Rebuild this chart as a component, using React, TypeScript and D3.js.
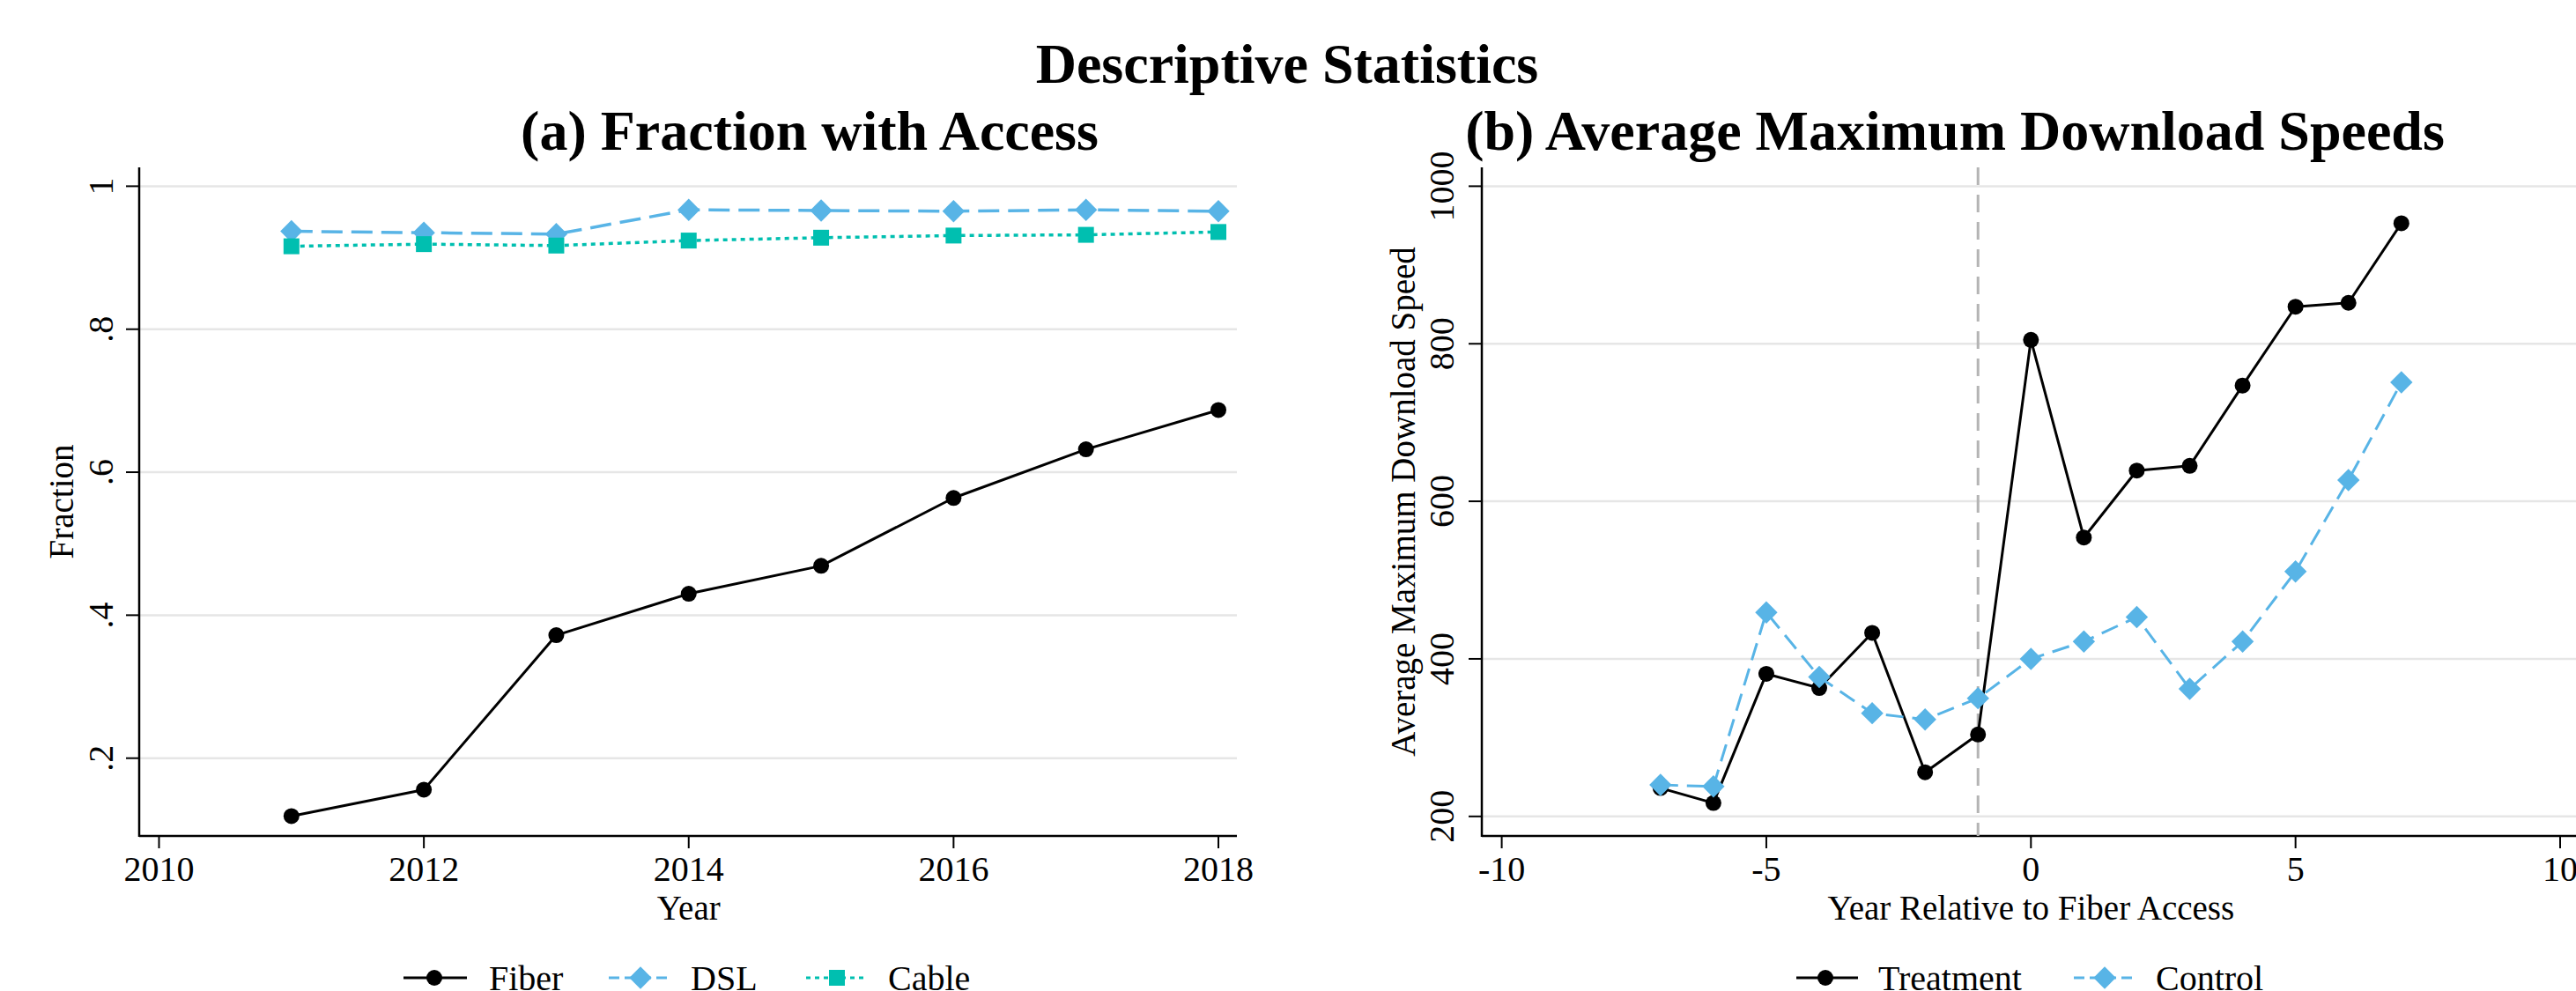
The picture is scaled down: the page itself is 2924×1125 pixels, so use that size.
import React, { useEffect } from "react";
import * as d3 from "d3";

// ---------- data ----------
const years = [2011, 2012, 2013, 2014, 2015, 2016, 2017, 2018];
const fiber = [0.119, 0.156, 0.372, 0.43, 0.469, 0.564, 0.632, 0.687];
const dsl = [0.937, 0.935, 0.933, 0.967, 0.966, 0.965, 0.967, 0.965];
const cable = [0.916, 0.919, 0.917, 0.924, 0.928, 0.931, 0.932, 0.936];

const relYears = [-7, -6, -5, -4, -3, -2, -1, 0, 1, 2, 3, 4, 5, 6, 7];
const treatment = [236, 217, 381, 363, 433, 256, 304, 805, 554, 639, 645, 747, 847, 852, 953];
const control = [240, 238, 459, 377, 331, 323, 350, 400, 422, 453, 362, 422, 511, 627, 751];

const leftXTicks = [2010, 2012, 2014, 2016, 2018];
const leftYTicks = [0.2, 0.4, 0.6, 0.8, 1];
const leftYLabels = [".2", ".4", ".6", ".8", "1"];
const rightXTicks = [-10, -5, 0, 5, 10];
const rightXLabels = ["-10", "-5", "0", "5", "10"];
const rightYTicks = [200, 400, 600, 800, 1000];
const rightYLabels = ["200", "400", "600", "800", "1000"];

// ---------- style ----------
const W = 2924;
const H = 1125;
const FONT = "'Liberation Serif', 'Times New Roman', serif";
const BLUE = "#58B4E6";
const TEAL = "#00BFB0";
const GRID = "#e6e6e6";

const TOP = 190;
const BOTTOM = 949;

type Marker = "circle" | "diamond" | "square";

function MarkerShape({ kind, x, y, color }: { kind: Marker; x: number; y: number; color: string }) {
  if (kind === "circle") return <circle cx={x} cy={y} r={9} fill={color} />;
  if (kind === "diamond") {
    const s = 12.7;
    return <path d={`M${x},${y - s}L${x + s},${y}L${x},${y + s}L${x - s},${y}Z`} fill={color} />;
  }
  const h = 9;
  return <rect x={x - h} y={y - h} width={2 * h} height={2 * h} fill={color} />;
}

function Series({
  xs, ys, xScale, yScale, color, dash, width, marker,
}: {
  xs: number[]; ys: number[]; xScale: any; yScale: any; color: string; dash?: string; width: number; marker: Marker;
}) {
  const pts = xs.map((x, i) => [xScale(x), yScale(ys[i])] as [number, number]);
  const line = d3.line();
  return (
    <g>
      <path d={line(pts) || ""} fill="none" stroke={color} strokeWidth={width} strokeDasharray={dash} strokeLinejoin="round" />
      {pts.map((p, i) => (
        <MarkerShape key={i} kind={marker} x={p[0]} y={p[1]} color={color} />
      ))}
    </g>
  );
}

function LegendItem({
  x1, x2, mx, tx, y, color, dash, marker, label,
}: {
  x1: number; x2: number; mx: number; tx: number; y: number; color: string; dash?: string; marker: Marker; label: string;
}) {
  return (
    <g>
      <line x1={x1} x2={x2} y1={y} y2={y} stroke={color} strokeWidth={3} strokeDasharray={dash} />
      <MarkerShape kind={marker} x={mx} y={y} color={color} />
      <text x={tx} y={1124} fontSize={40} fontFamily={FONT} fill="#000">{label}</text>
    </g>
  );
}

function Axes({
  xScale, yScale, xTicks, xLabels, yTicks, yLabels, axisLeft, axisRight, yLabelX, yTitle, yTitleX, xTitle,
}: any) {
  const midY = (TOP + BOTTOM) / 2;
  return (
    <g>
      {yTicks.map((t: number) => (
        <line key={"g" + t} x1={axisLeft} x2={axisRight} y1={yScale(t)} y2={yScale(t)} stroke={GRID} strokeWidth={2.5} />
      ))}
      <line x1={axisLeft} x2={axisLeft} y1={TOP} y2={BOTTOM + 1} stroke="#000" strokeWidth={2.5} />
      <line x1={axisLeft} x2={axisRight} y1={BOTTOM} y2={BOTTOM} stroke="#000" strokeWidth={2.5} />
      {yTicks.map((t: number, i: number) => (
        <g key={"y" + t}>
          <line x1={axisLeft - 15} x2={axisLeft} y1={yScale(t)} y2={yScale(t)} stroke="#000" strokeWidth={2} />
          <text
            transform={`translate(${yLabelX},${yScale(t)}) rotate(-90)`}
            textAnchor="middle"
            fontSize={40}
            fontFamily={FONT}
          >
            {yLabels[i]}
          </text>
        </g>
      ))}
      {xTicks.map((t: number, i: number) => (
        <g key={"x" + t}>
          <line x1={xScale(t)} x2={xScale(t)} y1={BOTTOM} y2={BOTTOM + 14} stroke="#000" strokeWidth={2} />
          <text x={xScale(t)} y={1000} textAnchor="middle" fontSize={40} fontFamily={FONT}>
            {xLabels[i]}
          </text>
        </g>
      ))}
      <text transform={`translate(${yTitleX},${midY}) rotate(-90)`} textAnchor="middle" fontSize={39} fontFamily={FONT}>
        {yTitle}
      </text>
      <text x={(xScale.range()[0] + xScale.range()[1]) / 2} y={1044} textAnchor="middle" fontSize={39} fontFamily={FONT}>
        {xTitle}
      </text>
    </g>
  );
}

export default function App() {
  useEffect(() => {
    document.body.style.margin = "0";
  }, []);

  const lx = d3.scaleLinear().domain([2010, 2018]).range([180.5, 1383]);
  const ly = d3.scaleLinear().domain([0.2, 1]).range([860.7, 211.4]);
  const rx = d3.scaleLinear().domain([-10, 10]).range([1704.6, 2906]);
  const ry = d3.scaleLinear().domain([200, 1000]).range([926.8, 211.4]);

  return (
    <svg width={W} height={H} style={{ position: "absolute", left: 0, top: 0, display: "block", background: "#fff" }}>
      <rect x={0} y={0} width={W} height={H} fill="#fff" />
      <text x={1461} y={94} textAnchor="middle" fontSize={64} fontWeight="bold" fontFamily={FONT}>
        Descriptive Statistics
      </text>
      <text x={919} y={170} textAnchor="middle" fontSize={64} fontWeight="bold" fontFamily={FONT}>
        (a) Fraction with Access
      </text>
      <text x={2219} y={170} textAnchor="middle" fontSize={64} fontWeight="bold" fontFamily={FONT}>
        (b) Average Maximum Download Speeds
      </text>

      {/* left panel */}
      <Axes
        xScale={lx}
        yScale={ly}
        xTicks={leftXTicks}
        xLabels={leftXTicks.map(String)}
        yTicks={leftYTicks}
        yLabels={leftYLabels}
        axisLeft={158}
        axisRight={1404}
        yLabelX={128}
        yTitle="Fraction"
        yTitleX={83}
        xTitle="Year"
      />
      <Series xs={years} ys={fiber} xScale={lx} yScale={ly} color="#000" width={3} marker="circle" />
      <Series xs={years} ys={dsl} xScale={lx} yScale={ly} color={BLUE} width={3.5} dash="24,10" marker="diamond" />
      <Series xs={years} ys={cable} xScale={lx} yScale={ly} color={TEAL} width={3.5} dash="5,5" marker="square" />

      {/* right panel */}
      <Axes
        xScale={rx}
        yScale={ry}
        xTicks={rightXTicks}
        xLabels={rightXLabels}
        yTicks={rightYTicks}
        yLabels={rightYLabels}
        axisLeft={1682}
        axisRight={2924}
        yLabelX={1650}
        yTitle="Average Maximum Download Speed"
        yTitleX={1606}
        xTitle="Year Relative to Fiber Access"
      />
      <line x1={rx(-1)} x2={rx(-1)} y1={TOP} y2={BOTTOM} stroke="#b4b4b4" strokeWidth={3} strokeDasharray="20,11" />
      <Series xs={relYears} ys={treatment} xScale={rx} yScale={ry} color="#000" width={3} marker="circle" />
      <Series xs={relYears} ys={control} xScale={rx} yScale={ry} color={BLUE} width={3} dash="20,10" marker="diamond" />

      {/* legends */}
      <LegendItem x1={458} x2={530} mx={493} tx={555} y={1110} color="#000" marker="circle" label="Fiber" />
      <LegendItem x1={691} x2={763} mx={727} tx={784} y={1110} color={BLUE} dash="12,6" marker="diamond" label="DSL" />
      <LegendItem x1={915} x2={982} mx={950} tx={1008} y={1110} color={TEAL} dash="5,5" marker="square" label="Cable" />
      <LegendItem x1={2039} x2={2109} mx={2072} tx={2132} y={1110} color="#000" marker="circle" label="Treatment" />
      <LegendItem x1={2354} x2={2426} mx={2389} tx={2447} y={1110} color={BLUE} dash="12,6" marker="diamond" label="Control" />
    </svg>
  );
}
